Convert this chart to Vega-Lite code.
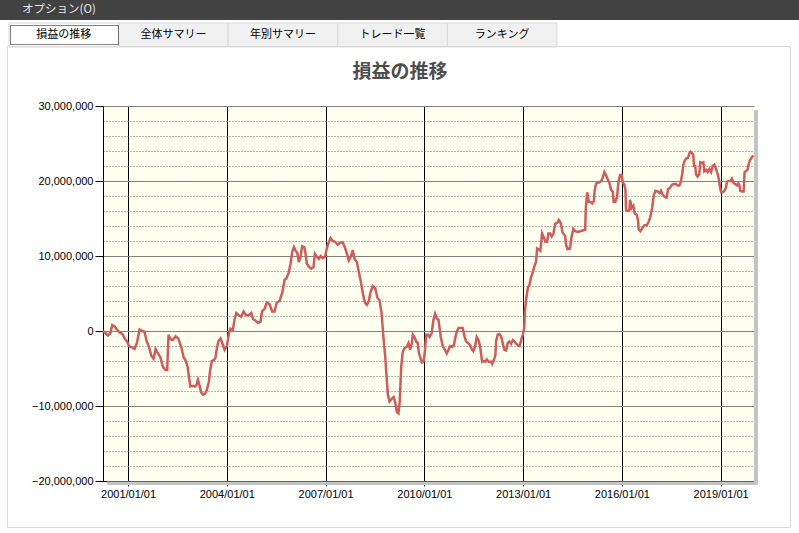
{
  "$schema": "https://vega.github.io/schema/vega-lite/v6.json",
  "padding": 0,
  "background": "#ffffff",
  "spacing": -2,
  "config": {"view": {"stroke": null}, "font": "Liberation Sans"},
  "vconcat": [
    {
      "spacing": 2,
      "vconcat": [
        {
          "width": 696,
          "height": 20,
          "data": {"values": [{"label": "オプション(O)"}]},
          "encoding": {
            "x": {"field": "label", "type": "nominal", "axis": null, "bandPosition": 0, "scale": {"range": [-103, 696], "paddingInner": 0, "paddingOuter": 0}}
          },
          "layer": [
            {"mark": {"type": "rect", "fill": "#424242", "strokeWidth": 0}},
            {
              "mark": {"type": "text", "align": "left", "baseline": "middle", "dx": 22, "font": "Noto Sans CJK JP", "fontSize": 11.5, "color": "#e8e8e8"},
              "encoding": {"text": {"field": "label", "type": "nominal"}}
            }
          ]
        },
        {
          "width": 696,
          "height": 24,
          "resolve": {"scale": {"x": "independent", "y": "independent"}},
          "layer": [
            {
              "data": {"values": [{"tab": "損益の推移"}, {"tab": "全体サマリー"}, {"tab": "年別サマリー"}, {"tab": "トレード一覧"}, {"tab": "ランキング"}]},
              "encoding": {
                "x": {"field": "tab", "type": "nominal", "sort": null, "axis": null, "scale": {"range": [-94, 454], "paddingInner": 0, "paddingOuter": 0}}
              },
              "layer": [
                {
                  "mark": {"type": "rect", "stroke": "#d9d9d9", "strokeWidth": 1},
                  "encoding": {"fill": {"condition": {"test": "datum.tab === '損益の推移'", "value": "#ffffff"}, "value": "#f0f0f0"}}
                },
                {
                  "mark": {"type": "text", "font": "Noto Sans CJK JP", "fontSize": 11, "color": "#000000", "baseline": "middle"},
                  "encoding": {"text": {"field": "tab", "type": "nominal"}}
                }
              ]
            },
            {
              "data": {"values": [{"part": "focus"}]},
              "mark": {"type": "rect", "fillOpacity": 0, "stroke": "#000000", "strokeWidth": 1, "strokeDash": [1, 1]},
              "encoding": {
                "x": {"field": "part", "type": "nominal", "axis": null, "scale": {"range": [-92.5, 15.5], "paddingInner": 0, "paddingOuter": 0}},
                "y": {"field": "part", "type": "nominal", "axis": null, "scale": {"range": [2.5, 21.5], "paddingInner": 0, "paddingOuter": 0}}
              }
            }
          ]
        }
      ]
    },
    {
      "width": 651,
      "height": 375,
      "title": {"text": "損益の推移", "font": "Noto Sans CJK JP", "fontSize": 19, "fontWeight": "bold", "color": "#4d4d4d", "anchor": "middle", "dx": -28.5, "offset": -36},
      "view": {"fill": "#fffff0", "stroke": null},
      "resolve": {"scale": {"x": "independent", "y": "independent"}, "axis": {"x": "independent", "y": "independent"}},
      "layer": [
        {
          "data": {"values": [
            {"d":"2000-03-29","v":0},{"d":"2000-04-27","v":-300000},{"d":"2000-05-22","v":-600000},{"d":"2000-06-18","v":-300000},{"d":"2000-07-10","v":800000},{"d":"2000-08-05","v":600000},{"d":"2000-08-30","v":200000},{"d":"2000-09-30","v":-200000},{"d":"2000-10-30","v":-400000},{"d":"2000-11-25","v":-1000000},{"d":"2000-12-20","v":-1400000},
            {"d":"2001-01-12","v":-2000000},{"d":"2001-02-14","v":-2200000},{"d":"2001-03-14","v":-2400000},{"d":"2001-04-09","v":-1600000},{"d":"2001-05-09","v":200000},{"d":"2001-06-08","v":0},{"d":"2001-07-03","v":-100000},{"d":"2001-07-22","v":-1200000},{"d":"2001-08-20","v":-2100000},{"d":"2001-09-16","v":-3300000},{"d":"2001-10-11","v":-3700000},{"d":"2001-11-03","v":-2400000},{"d":"2001-11-29","v":-3000000},{"d":"2001-12-25","v":-3500000},
            {"d":"2002-01-23","v":-4800000},{"d":"2002-02-19","v":-5200000},{"d":"2002-03-11","v":-5200000},{"d":"2002-03-26","v":-500000},{"d":"2002-04-17","v":-1100000},{"d":"2002-05-13","v":-1200000},{"d":"2002-06-12","v":-700000},{"d":"2002-07-12","v":-1000000},{"d":"2002-08-14","v":-2100000},{"d":"2002-09-09","v":-3500000},{"d":"2002-10-01","v":-3900000},{"d":"2002-10-24","v":-4800000},{"d":"2002-11-07","v":-6100000},{"d":"2002-11-23","v":-7400000},{"d":"2002-12-21","v":-7300000},
            {"d":"2003-01-13","v":-7400000},{"d":"2003-01-29","v":-7200000},{"d":"2003-02-15","v":-6500000},{"d":"2003-03-04","v":-7200000},{"d":"2003-03-23","v":-8200000},{"d":"2003-04-10","v":-8500000},{"d":"2003-05-02","v":-8400000},{"d":"2003-05-24","v":-7900000},{"d":"2003-06-16","v":-6800000},{"d":"2003-07-01","v":-5200000},{"d":"2003-07-19","v":-4000000},{"d":"2003-08-11","v":-3900000},{"d":"2003-08-30","v":-3500000},{"d":"2003-09-13","v":-2300000},{"d":"2003-10-02","v":-1300000},{"d":"2003-10-24","v":-1000000},{"d":"2003-11-12","v":-1600000},{"d":"2003-12-08","v":-2500000},
            {"d":"2004-01-03","v":-2000000},{"d":"2004-01-25","v":-300000},{"d":"2004-02-10","v":300000},{"d":"2004-03-08","v":100000},{"d":"2004-03-27","v":1500000},{"d":"2004-04-15","v":2400000},{"d":"2004-05-14","v":2100000},{"d":"2004-06-10","v":1900000},{"d":"2004-07-05","v":2600000},{"d":"2004-08-04","v":2100000},{"d":"2004-08-30","v":2100000},{"d":"2004-09-29","v":2400000},{"d":"2004-10-17","v":1600000},{"d":"2004-11-13","v":1400000},{"d":"2004-12-11","v":1100000},
            {"d":"2005-01-08","v":1200000},{"d":"2005-01-26","v":2600000},{"d":"2005-02-25","v":3000000},{"d":"2005-03-20","v":3800000},{"d":"2005-04-19","v":3600000},{"d":"2005-05-19","v":2600000},{"d":"2005-06-14","v":2600000},{"d":"2005-07-09","v":3800000},{"d":"2005-08-09","v":4000000},{"d":"2005-09-08","v":5100000},{"d":"2005-10-03","v":6800000},{"d":"2005-10-22","v":7000000},{"d":"2005-11-17","v":7700000},{"d":"2005-12-09","v":9000000},{"d":"2005-12-28","v":10600000},
            {"d":"2006-01-15","v":11200000},{"d":"2006-02-03","v":10700000},{"d":"2006-02-22","v":10400000},{"d":"2006-03-10","v":9200000},{"d":"2006-03-28","v":9800000},{"d":"2006-04-16","v":11300000},{"d":"2006-05-09","v":11200000},{"d":"2006-05-23","v":10400000},{"d":"2006-06-07","v":9000000},{"d":"2006-06-29","v":8600000},{"d":"2006-07-25","v":8300000},{"d":"2006-08-20","v":8500000},{"d":"2006-09-04","v":10300000},{"d":"2006-09-26","v":9900000},{"d":"2006-10-18","v":9600000},{"d":"2006-11-07","v":10000000},{"d":"2006-12-02","v":9700000},{"d":"2006-12-27","v":9900000},
            {"d":"2007-01-09","v":10700000},{"d":"2007-02-01","v":11700000},{"d":"2007-02-26","v":12400000},{"d":"2007-03-21","v":12000000},{"d":"2007-04-17","v":11900000},{"d":"2007-05-16","v":11500000},{"d":"2007-06-12","v":11800000},{"d":"2007-07-10","v":11800000},{"d":"2007-08-02","v":11200000},{"d":"2007-08-24","v":10400000},{"d":"2007-09-16","v":9400000},{"d":"2007-10-08","v":9900000},{"d":"2007-10-30","v":10800000},{"d":"2007-11-18","v":9600000},{"d":"2007-12-14","v":9200000},
            {"d":"2008-01-05","v":7900000},{"d":"2008-01-27","v":6600000},{"d":"2008-02-19","v":5000000},{"d":"2008-03-11","v":3800000},{"d":"2008-04-03","v":3500000},{"d":"2008-04-25","v":4000000},{"d":"2008-05-14","v":5200000},{"d":"2008-06-09","v":6000000},{"d":"2008-07-05","v":5700000},{"d":"2008-07-30","v":4400000},{"d":"2008-08-22","v":4100000},{"d":"2008-09-13","v":2400000},{"d":"2008-10-05","v":-1000000},{"d":"2008-10-24","v":-3400000},{"d":"2008-11-05","v":-5600000},{"d":"2008-11-22","v":-8500000},{"d":"2008-12-11","v":-9400000},
            {"d":"2009-01-06","v":-9000000},{"d":"2009-01-25","v":-8800000},{"d":"2009-02-13","v":-9600000},{"d":"2009-03-01","v":-10800000},{"d":"2009-03-19","v":-11000000},{"d":"2009-04-03","v":-9400000},{"d":"2009-04-19","v":-4800000},{"d":"2009-05-06","v":-2800000},{"d":"2009-05-25","v":-2300000},{"d":"2009-06-20","v":-2100000},{"d":"2009-07-09","v":-1600000},{"d":"2009-07-27","v":-2500000},{"d":"2009-08-14","v":-1700000},{"d":"2009-08-26","v":-500000},{"d":"2009-09-14","v":-800000},{"d":"2009-10-02","v":-1400000},{"d":"2009-10-20","v":-1600000},{"d":"2009-11-01","v":-2900000},{"d":"2009-11-19","v":-3600000},{"d":"2009-12-04","v":-4200000},{"d":"2009-12-22","v":-4100000},
            {"d":"2010-01-03","v":-3200000},{"d":"2010-01-22","v":-500000},{"d":"2010-02-09","v":-500000},{"d":"2010-02-27","v":-800000},{"d":"2010-03-23","v":-300000},{"d":"2010-04-12","v":1500000},{"d":"2010-04-30","v":2300000},{"d":"2010-05-18","v":1700000},{"d":"2010-06-06","v":1500000},{"d":"2010-06-17","v":600000},{"d":"2010-07-02","v":-800000},{"d":"2010-07-24","v":-2000000},{"d":"2010-08-16","v":-2500000},{"d":"2010-09-07","v":-3000000},{"d":"2010-09-26","v":-2500000},{"d":"2010-10-14","v":-2000000},{"d":"2010-11-06","v":-2100000},{"d":"2010-11-24","v":-1900000},{"d":"2010-12-12","v":-800000},{"d":"2010-12-27","v":-100000},
            {"d":"2011-01-15","v":400000},{"d":"2011-02-07","v":400000},{"d":"2011-03-02","v":400000},{"d":"2011-03-21","v":-700000},{"d":"2011-04-09","v":-1400000},{"d":"2011-05-01","v":-1600000},{"d":"2011-05-23","v":-1900000},{"d":"2011-06-10","v":-2400000},{"d":"2011-06-29","v":-2700000},{"d":"2011-07-18","v":-2100000},{"d":"2011-08-05","v":-800000},{"d":"2011-08-24","v":-1200000},{"d":"2011-09-12","v":-2100000},{"d":"2011-09-23","v":-3100000},{"d":"2011-10-04","v":-4100000},{"d":"2011-10-22","v":-4000000},{"d":"2011-11-10","v":-4100000},{"d":"2011-11-24","v":-3800000},{"d":"2011-12-16","v":-4100000},
            {"d":"2012-01-12","v":-4100000},{"d":"2012-01-23","v":-4400000},{"d":"2012-02-10","v":-3900000},{"d":"2012-02-28","v":-3200000},{"d":"2012-03-07","v":-1400000},{"d":"2012-03-24","v":-500000},{"d":"2012-04-13","v":-400000},{"d":"2012-05-01","v":-700000},{"d":"2012-05-19","v":-1600000},{"d":"2012-06-07","v":-2500000},{"d":"2012-06-26","v":-2600000},{"d":"2012-07-14","v":-1600000},{"d":"2012-08-02","v":-1400000},{"d":"2012-08-21","v":-1700000},{"d":"2012-09-08","v":-1200000},{"d":"2012-09-27","v":-1400000},{"d":"2012-10-16","v":-1700000},{"d":"2012-11-03","v":-1900000},{"d":"2012-11-22","v":-2000000},{"d":"2012-12-10","v":-1200000},{"d":"2012-12-28","v":-500000},
            {"d":"2013-01-13","v":400000},{"d":"2013-01-20","v":2600000},{"d":"2013-02-05","v":4400000},{"d":"2013-02-23","v":5800000},{"d":"2013-03-11","v":6100000},{"d":"2013-03-30","v":7200000},{"d":"2013-04-17","v":7800000},{"d":"2013-05-05","v":8600000},{"d":"2013-05-24","v":9200000},{"d":"2013-06-05","v":11000000},{"d":"2013-06-23","v":10900000},{"d":"2013-07-11","v":10700000},{"d":"2013-07-30","v":13000000},{"d":"2013-08-17","v":12500000},{"d":"2013-09-05","v":11900000},{"d":"2013-09-24","v":11900000},{"d":"2013-10-08","v":13000000},{"d":"2013-10-27","v":13000000},{"d":"2013-11-14","v":12600000},{"d":"2013-12-03","v":13000000},{"d":"2013-12-22","v":14300000},
            {"d":"2014-01-14","v":14400000},{"d":"2014-02-01","v":14800000},{"d":"2014-02-22","v":14400000},{"d":"2014-03-15","v":13100000},{"d":"2014-04-11","v":12700000},{"d":"2014-04-22","v":11500000},{"d":"2014-05-09","v":10900000},{"d":"2014-06-05","v":11000000},{"d":"2014-06-23","v":12600000},{"d":"2014-07-12","v":13600000},{"d":"2014-08-03","v":13300000},{"d":"2014-08-29","v":13200000},{"d":"2014-09-25","v":13300000},{"d":"2014-10-24","v":13400000},{"d":"2014-11-20","v":13500000},{"d":"2014-11-27","v":16400000},{"d":"2014-12-12","v":18500000},{"d":"2014-12-30","v":17200000},
            {"d":"2015-01-18","v":17200000},{"d":"2015-02-06","v":17000000},{"d":"2015-02-24","v":17300000},{"d":"2015-03-05","v":18700000},{"d":"2015-03-20","v":19600000},{"d":"2015-04-08","v":19800000},{"d":"2015-04-26","v":19800000},{"d":"2015-05-18","v":20000000},{"d":"2015-06-02","v":20400000},{"d":"2015-06-21","v":21200000},{"d":"2015-07-09","v":20800000},{"d":"2015-08-01","v":20100000},{"d":"2015-08-15","v":19800000},{"d":"2015-09-04","v":18800000},{"d":"2015-09-22","v":18600000},{"d":"2015-10-02","v":17200000},{"d":"2015-10-21","v":17200000},{"d":"2015-11-09","v":17900000},{"d":"2015-11-24","v":19800000},{"d":"2015-12-12","v":20800000},{"d":"2015-12-31","v":20800000},
            {"d":"2016-01-11","v":19800000},{"d":"2016-01-29","v":19500000},{"d":"2016-02-10","v":18800000},{"d":"2016-02-17","v":16100000},{"d":"2016-03-05","v":16000000},{"d":"2016-03-24","v":16100000},{"d":"2016-04-01","v":17500000},{"d":"2016-04-19","v":16400000},{"d":"2016-05-08","v":16700000},{"d":"2016-05-22","v":15700000},{"d":"2016-06-14","v":15500000},{"d":"2016-06-29","v":14700000},{"d":"2016-07-06","v":13500000},{"d":"2016-07-25","v":13300000},{"d":"2016-08-13","v":13700000},{"d":"2016-09-08","v":14100000},{"d":"2016-10-03","v":14100000},{"d":"2016-10-25","v":14600000},{"d":"2016-11-10","v":15100000},{"d":"2016-12-02","v":16400000},{"d":"2016-12-20","v":18100000},
            {"d":"2017-01-08","v":18700000},{"d":"2017-02-03","v":18600000},{"d":"2017-02-22","v":18400000},{"d":"2017-03-10","v":18700000},{"d":"2017-03-28","v":18200000},{"d":"2017-04-20","v":17900000},{"d":"2017-05-12","v":17800000},{"d":"2017-05-27","v":18900000},{"d":"2017-06-19","v":19100000},{"d":"2017-07-10","v":19500000},{"d":"2017-08-02","v":19600000},{"d":"2017-08-24","v":19600000},{"d":"2017-09-11","v":19400000},{"d":"2017-09-30","v":19400000},{"d":"2017-10-14","v":19800000},{"d":"2017-10-30","v":20800000},{"d":"2017-11-14","v":22200000},{"d":"2017-11-28","v":22700000},{"d":"2017-12-14","v":23000000},
            {"d":"2018-01-05","v":23100000},{"d":"2018-01-20","v":23700000},{"d":"2018-02-04","v":23900000},{"d":"2018-02-19","v":23700000},{"d":"2018-03-03","v":23500000},{"d":"2018-03-11","v":22000000},{"d":"2018-03-25","v":22000000},{"d":"2018-04-03","v":20900000},{"d":"2018-04-20","v":20600000},{"d":"2018-05-09","v":20900000},{"d":"2018-05-20","v":22500000},{"d":"2018-06-08","v":22400000},{"d":"2018-06-23","v":22500000},{"d":"2018-07-04","v":21300000},{"d":"2018-07-23","v":21500000},{"d":"2018-08-10","v":21200000},{"d":"2018-08-29","v":21600000},{"d":"2018-09-17","v":21200000},{"d":"2018-10-04","v":22000000},{"d":"2018-10-23","v":22200000},{"d":"2018-11-11","v":21600000},{"d":"2018-11-29","v":20900000},{"d":"2018-12-10","v":20400000},{"d":"2018-12-25","v":19200000},
            {"d":"2019-01-06","v":18500000},{"d":"2019-01-24","v":18500000},{"d":"2019-02-12","v":18700000},{"d":"2019-03-01","v":19100000},{"d":"2019-03-12","v":19900000},{"d":"2019-03-29","v":20000000},{"d":"2019-04-21","v":20000000},{"d":"2019-05-06","v":20300000},{"d":"2019-05-21","v":19800000},{"d":"2019-06-09","v":19600000},{"d":"2019-07-01","v":19400000},{"d":"2019-07-15","v":19700000},{"d":"2019-07-26","v":19500000},{"d":"2019-08-07","v":18700000},{"d":"2019-08-26","v":18600000},{"d":"2019-09-13","v":18600000},{"d":"2019-09-24","v":21200000},{"d":"2019-10-09","v":21300000},{"d":"2019-10-27","v":21500000},{"d":"2019-11-04","v":22100000},{"d":"2019-11-23","v":22800000},{"d":"2019-12-10","v":23100000},{"d":"2019-12-29","v":23400000}
          ]},
          "mark": {"type": "line", "color": "#cd5c5c", "strokeWidth": 2.5},
          "encoding": {
            "x": {
              "field": "d", "type": "temporal",
              "scale": {"type": "utc", "nice": false, "domain": [{"year": 2000, "month": 3, "date": 29, "utc": true}, {"year": 2020, "month": 1, "date": 6, "utc": true}]},
              "axis": {
                "orient": "bottom",
                "title": null,
                "values": [
                  {"year": 2001, "month": 1, "date": 1, "utc": true},
                  {"year": 2004, "month": 1, "date": 1, "utc": true},
                  {"year": 2007, "month": 1, "date": 1, "utc": true},
                  {"year": 2010, "month": 1, "date": 1, "utc": true},
                  {"year": 2013, "month": 1, "date": 1, "utc": true},
                  {"year": 2016, "month": 1, "date": 1, "utc": true},
                  {"year": 2019, "month": 1, "date": 1, "utc": true}
                ],
                "labelExpr": "utcFormat(datum.value, '%Y/%m/%d')",
                "grid": true, "gridColor": "#000000", "gridWidth": 1, "gridOpacity": 1,
                "tickColor": "#000000", "tickSize": 5, "domainColor": "#000000", "domainWidth": 1,
                "labelFont": "Liberation Sans", "labelFontSize": 11, "labelColor": "#000000", "labelPadding": 2,
                "labelOverlap": false, "labelFlush": false
              }
            },
            "y": {
              "field": "v", "type": "quantitative",
              "scale": {"domain": [-20000000, 30000000], "nice": false, "zero": false},
              "axis": {
                "orient": "left",
                "title": null,
                "values": [-20000000, -18000000, -16000000, -14000000, -12000000, -10000000, -8000000, -6000000, -4000000, -2000000, 0, 2000000, 4000000, 6000000, 8000000, 10000000, 12000000, 14000000, 16000000, 18000000, 20000000, 22000000, 24000000, 26000000, 28000000, 30000000],
                "grid": true,
                "gridColor": {"condition": {"test": "datum.value % 10000000 === 0", "value": "#808080"}, "value": "#6e6e6e"},
                "gridDash": {"condition": {"test": "datum.value % 10000000 === 0", "value": []}, "value": [1, 2]},
                "gridOpacity": 1,
                "tickOpacity": {"condition": {"test": "datum.value % 10000000 === 0", "value": 1}, "value": 0},
                "tickSize": 8, "tickColor": "#000000", "domainColor": "#000000",
                "labelExpr": "datum.value % 10000000 === 0 ? format(datum.value, ',') : ''",
                "labelFont": "Liberation Sans", "labelFontSize": 11, "labelColor": "#000000", "labelPadding": 2,
                "labelOverlap": false, "minExtent": 103
              }
            }
          }
        },
        {
          "data": {"values": [{"part": "panel"}]},
          "mark": {"type": "rect", "fillOpacity": 0, "stroke": "#d9d9d9", "strokeWidth": 1},
          "encoding": {
            "x": {"field": "part", "type": "nominal", "axis": null, "scale": {"range": [-95.5, 687.5], "paddingInner": 0, "paddingOuter": 0}},
            "y": {"field": "part", "type": "nominal", "axis": null, "scale": {"range": [-59.5, 421.5], "paddingInner": 0, "paddingOuter": 0}}
          }
        },
        {
          "data": {"values": [{"part": "shadow-right"}]},
          "mark": {"type": "rect", "fill": "#c4c4c4", "strokeWidth": 0},
          "encoding": {
            "x": {"field": "part", "type": "nominal", "axis": null, "scale": {"range": [651, 655], "paddingInner": 0, "paddingOuter": 0}},
            "y": {"field": "part", "type": "nominal", "axis": null, "scale": {"range": [4, 379], "paddingInner": 0, "paddingOuter": 0}}
          }
        },
        {
          "data": {"values": [{"part": "shadow-bottom"}]},
          "mark": {"type": "rect", "fill": "#c4c4c4", "strokeWidth": 0},
          "encoding": {
            "x": {"field": "part", "type": "nominal", "axis": null, "scale": {"range": [4, 655], "paddingInner": 0, "paddingOuter": 0}},
            "y": {"field": "part", "type": "nominal", "axis": null, "scale": {"range": [375.5, 379], "paddingInner": 0, "paddingOuter": 0}}
          }
        }
      ]
    }
  ]
}
